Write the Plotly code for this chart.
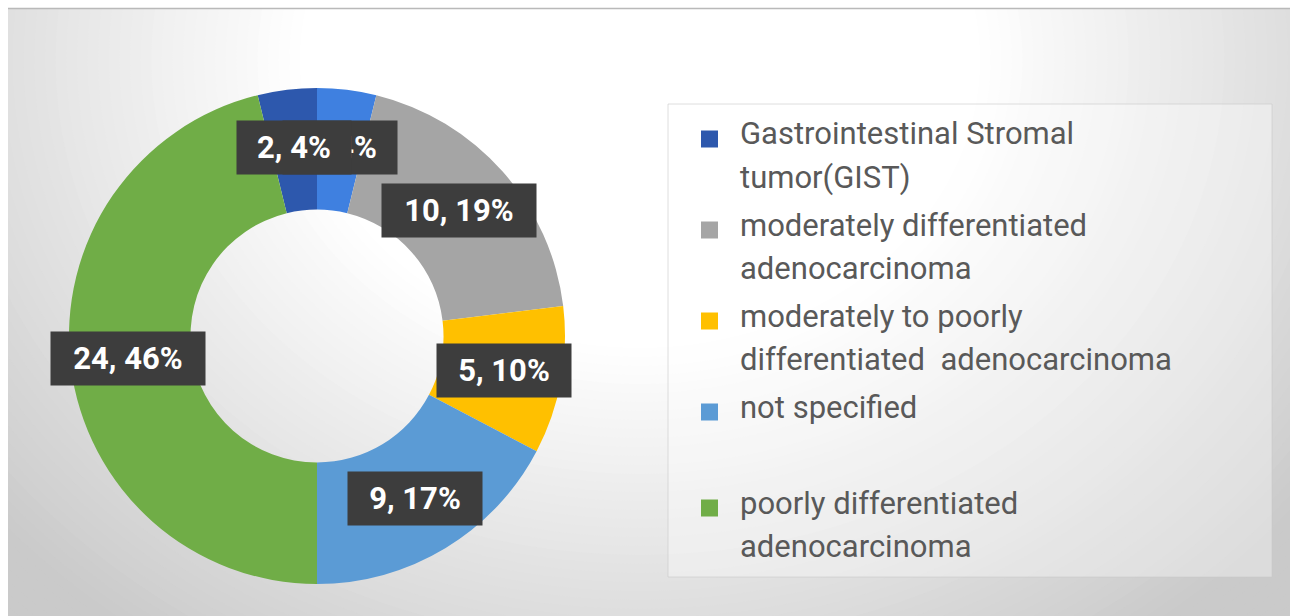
import math
import plotly.graph_objects as go

# ---- data -------------------------------------------------------------
categories = [
    "Gastrointestinal Stromal tumor(GIST)",
    " ",
    "moderately differentiated adenocarcinoma",
    "moderately to poorly differentiated  adenocarcinoma",
    "not specified",
    "poorly differentiated adenocarcinoma",
]
counts = [2, 2, 10, 5, 9, 24]
slice_colors = ["#2d58ad", "#3f80e0", "#a5a5a5", "#ffc000", "#5b9bd5", "#70ad47"]

# legend rows (wrapped text) in display order
legend_order = [0, 2, 3, 4, 1, 5]
legend_text = [
    "Gastrointestinal Stromal<br>tumor(GIST)",
    "",
    "moderately differentiated<br>adenocarcinoma",
    "moderately to poorly<br>differentiated  adenocarcinoma",
    "not specified",
    "poorly differentiated<br>adenocarcinoma",
]

# ---- canvas geometry (pixels) ----------------------------------------
W, H = 1290, 616
CX, CY, R = 317, 336, 248       # donut centre and outer radius
HOLE = 0.51
LABEL_R = 190                   # radius at which value boxes sit


def px(x):
    return x / W


def py(y):
    return 1 - y / H


def grey(v):
    v = int(round(v))
    return f"rgb({v},{v},{v})"


# ---- background: soft radial gradient built from nested ellipses ------
G_CX, G_CY, G_RX, G_RY = 640, 60, 850, 720
EDGE, INNER = 202, 255
T_IN = 0.40
shapes = []
steps = 56
for k in range(steps + 1):
    t = 1.1 - k * (1.1 - T_IN) / steps
    f = min(1.0, (t - T_IN) / (1.0 - T_IN))
    col = grey(INNER - (INNER - EDGE) * f)
    shapes.append(dict(
        type="circle", xref="paper", yref="paper", layer="below",
        x0=px(G_CX - G_RX * t), x1=px(G_CX + G_RX * t),
        y0=py(G_CY + G_RY * t), y1=py(G_CY - G_RY * t),
        fillcolor=col, line=dict(width=0),
    ))

# white frame strips at the top and left edges
shapes.append(dict(type="rect", xref="paper", yref="paper", layer="below",
                   x0=0, x1=1, y0=py(8), y1=1, fillcolor="white", line=dict(width=0)))
shapes.append(dict(type="rect", xref="paper", yref="paper", layer="below",
                   x0=0, x1=px(8), y0=0, y1=1, fillcolor="white", line=dict(width=0)))
shapes.append(dict(type="line", xref="paper", yref="paper", layer="below",
                   x0=px(8), x1=1, y0=py(8.5), y1=py(8.5),
                   line=dict(color="rgb(185,185,185)", width=1.5)))

# legend panel
LG_X0, LG_X1, LG_Y0, LG_Y1 = 668, 1272, 104, 577
shapes.append(dict(type="rect", xref="paper", yref="paper", layer="below",
                   x0=px(LG_X0), x1=px(LG_X1), y0=py(LG_Y1), y1=py(LG_Y0),
                   fillcolor="rgba(255,255,255,0.35)",
                   line=dict(color="rgba(200,200,200,0.6)", width=1)))

# ---- donut --------------------------------------------------------------
total = sum(counts)
start_rot = -360.0 * counts[0] / total   # GIST slice ends at 12 o'clock

fig = go.Figure(go.Pie(
    labels=categories,
    values=counts,
    sort=False,
    direction="clockwise",
    rotation=start_rot,
    hole=HOLE,
    marker=dict(colors=slice_colors, line=dict(width=0)),
    textinfo="none",
    hoverinfo="label+value+percent",
    domain=dict(x=[px(CX - R), px(CX + R)], y=[py(CY + R), py(CY - R)]),
    showlegend=False,
))

# ---- value boxes ("n, p%") placed at each slice's mid-angle -------------
annotations = []
mids = []
acc = start_rot
for c in counts:
    ang = acc + 360.0 * c / total / 2
    mids.append(ang)
    acc += 360.0 * c / total

for i in reversed(range(len(counts))):
    a = math.radians(mids[i])
    x = CX + LABEL_R * math.sin(a)
    y = CY - LABEL_R * math.cos(a)
    pct = round(100 * counts[i] / total)
    txt = f"{counts[i]}, {pct}%"
    annotations.append(dict(
        x=px(x), y=py(y), xref="paper", yref="paper",
        text=txt, showarrow=False, xanchor="center", yanchor="middle",
        font=dict(family="Roboto", size=31, color="white", weight=700),
        bgcolor="#3d3d3d", borderpad=6, width=20 * len(txt) + 2, height=41,
        align="center",
    ))

# ---- legend rows --------------------------------------------------------
TEXT_X = 738
MARK_X0, MARK_SIZE = 701, 17
LINE_STEP, ITEM_STEP = 43, 48
y = 134
for idx in legend_order:
    lines = legend_text[idx].split("<br>")
    if legend_text[idx]:
        shapes.append(dict(
            type="rect", xref="paper", yref="paper",
            x0=px(MARK_X0), x1=px(MARK_X0 + MARK_SIZE),
            y0=py(y + 5 + MARK_SIZE / 2), y1=py(y + 5 - MARK_SIZE / 2),
            fillcolor=slice_colors[idx], line=dict(width=0),
        ))
    for j, line in enumerate(lines):
        if line:
            annotations.append(dict(
                x=px(TEXT_X), y=py(y), xref="paper", yref="paper",
                text=line, showarrow=False, xanchor="left", yanchor="middle",
                font=dict(family="Roboto", size=31, color="#595959"),
            ))
        if j < len(lines) - 1:
            y += LINE_STEP
    y += ITEM_STEP

fig.update_layout(
    width=W, height=H,
    margin=dict(l=0, r=0, t=0, b=0),
    paper_bgcolor=grey(EDGE),
    plot_bgcolor="rgba(0,0,0,0)",
    shapes=shapes,
    annotations=annotations,
    showlegend=False,
)

fig.write_html("out.html")
